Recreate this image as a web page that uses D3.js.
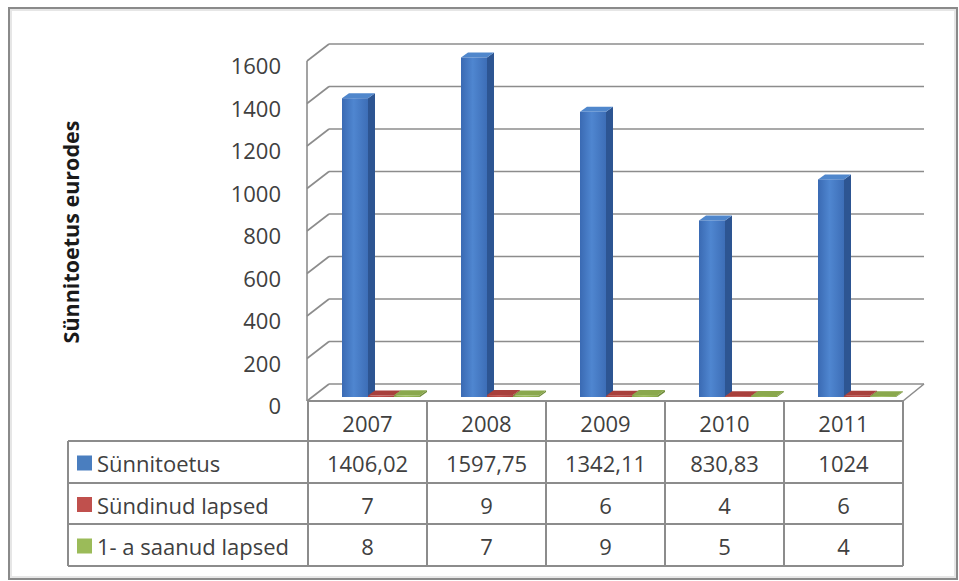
<!DOCTYPE html>
<html>
<head>
<meta charset="utf-8">
<script src="https://cdn.jsdelivr.net/npm/d3@7"></script>
<style>
  html, body { margin: 0; padding: 0; background: #ffffff; }
  svg { display: block; }
  text { font-family: "Open Sans", "Noto Sans", sans-serif; }
</style>
</head>
<body>
<svg id="chart" width="959" height="581"></svg>
<script>
// ---- data ----
const categories = ["2007", "2008", "2009", "2010", "2011"];
const seriesNames = ["Sünnitoetus", "Sündinud lapsed", "1- a saanud lapsed"];
const sunnitoetus = [1406.02, 1597.75, 1342.11, 830.83, 1024];
const sundinudLapsed = [7, 9, 6, 4, 6];
const saanudLapsed = [8, 7, 9, 5, 4];
const yTicks = [0, 200, 400, 600, 800, 1000, 1200, 1400, 1600];
const yTitle = "Sünnitoetus eurodes";

const seriesValues = [sunnitoetus, sundinudLapsed, saanudLapsed];
const seriesColors = [
  { front: ["#3a6ab3", "#4f86d0", "#3d6eb7"], side: "#2d5592", top: "#5087cc", swatch: "#4a7ebf" },
  { front: ["#a8403c", "#c0504d", "#a8403c"], side: "#8e302d", top: "#a8403c", swatch: "#c0504d" },
  { front: ["#86a64a", "#9bbb59", "#86a64a"], side: "#6f8c3a", top: "#8aa84d", swatch: "#9bbb59" }
];

// ---- layout ----
const svg = d3.select("#chart");
const frontLeft = 308, frontRight = 903, floorY = 401;
const DX = 21, DY = 17;            // depth offset of back wall
const BOX = 6, BOY = 4;            // bar front offset into depth
const BDX = 7, BDY = 5;            // bar depth
const gridColor = "#8c8c8c";
const textColor = "#404040";

const x = d3.scaleBand().domain(categories).range([frontLeft, frontRight]);
const y = d3.scaleLinear().domain([0, 1600]).range([floorY, floorY - 340]); // front plane
const barW = 26, barStart = 28;

// frame
svg.append("rect").attr("x", 9).attr("y", 8).attr("width", 948).attr("height", 571)
  .attr("fill", "#fff").attr("stroke", "#8a8a8a").attr("stroke-width", 2);
svg.append("rect").attr("x", 11).attr("y", 10).attr("width", 944).attr("height", 567)
  .attr("fill", "none").attr("stroke", "#e6e6e6").attr("stroke-width", 2);

// gridlines: back wall + left wall diagonals
const grid = svg.append("g").attr("stroke", gridColor).attr("stroke-width", 1.6).attr("fill", "none");
yTicks.forEach(v => {
  const yf = y(v), yb = y(v) - DY;
  grid.append("line").attr("x1", frontLeft + DX).attr("x2", frontRight + DX).attr("y1", yb).attr("y2", yb);
  grid.append("line").attr("x1", frontLeft - 1).attr("y1", yf).attr("x2", frontLeft + DX).attr("y2", yb);
});
// left axis (front edge of left wall)
grid.append("line").attr("x1", frontLeft - 1).attr("x2", frontLeft - 1).attr("y1", y(1600)).attr("y2", floorY);
// floor right diagonal
grid.append("line").attr("x1", frontRight).attr("y1", floorY).attr("x2", frontRight + DX).attr("y2", floorY - DY);

// y tick labels
svg.append("g").selectAll("text").data(yTicks).join("text")
  .attr("x", 281).attr("y", d => y(d) + 4)
  .attr("text-anchor", "end").attr("dominant-baseline", "central")
  .attr("font-size", 22).attr("fill", textColor)
  .text(d => d);

// y title
svg.append("text")
  .attr("transform", "translate(79,232) rotate(-90)")
  .attr("text-anchor", "middle")
  .attr("font-size", 21.5).attr("font-weight", "bold").attr("fill", "#1a1a1a")
  .text(yTitle);

// gradients
const defs = svg.append("defs");
seriesColors.forEach((c, i) => {
  const g = defs.append("linearGradient").attr("id", "grad" + i).attr("x1", "0").attr("x2", "1").attr("y1", "0").attr("y2", "0");
  g.append("stop").attr("offset", "0%").attr("stop-color", c.front[0]);
  g.append("stop").attr("offset", "45%").attr("stop-color", c.front[1]);
  g.append("stop").attr("offset", "100%").attr("stop-color", c.front[2]);
});

// bars
const bars = svg.append("g");
categories.forEach((cat, ci) => {
  seriesValues.forEach((vals, si) => {
    const v = vals[ci];
    const x0 = x(cat) + barStart + si * barW + BOX;
    const x1 = x0 + barW;
    const yb = y(0) - BOY;
    const yt = y(v) - BOY;
    const c = seriesColors[si];
    // side face
    bars.append("polygon")
      .attr("points", [[x1, yb], [x1 + BDX, yb - BDY], [x1 + BDX, yt - BDY], [x1, yt]].map(p => p.join(",")).join(" "))
      .attr("fill", c.side);
    // top face
    bars.append("polygon")
      .attr("points", [[x0, yt], [x0 + BDX, yt - BDY], [x1 + BDX, yt - BDY], [x1, yt]].map(p => p.join(",")).join(" "))
      .attr("fill", c.top);
    // front face
    bars.append("rect")
      .attr("x", x0).attr("y", yt).attr("width", barW).attr("height", Math.max(0.8, yb - yt))
      .attr("fill", "url(#grad" + si + ")");
  });
});

// ---- data table ----
const rowTops = [441, 483, 524, 566];
const tableLeft = 68;
const tbl = svg.append("g").attr("stroke", gridColor).attr("stroke-width", 2).attr("fill", "none");
// header top (floor front)
tbl.append("line").attr("x1", frontLeft).attr("x2", frontRight).attr("y1", floorY).attr("y2", floorY);
rowTops.forEach(ry => {
  tbl.append("line").attr("x1", tableLeft).attr("x2", frontRight).attr("y1", ry).attr("y2", ry);
});
tbl.append("line").attr("x1", tableLeft).attr("x2", tableLeft).attr("y1", rowTops[0]).attr("y2", rowTops[3]);
categories.forEach(cat => {
  tbl.append("line").attr("x1", x(cat)).attr("x2", x(cat)).attr("y1", floorY).attr("y2", rowTops[3]);
});
tbl.append("line").attr("x1", frontRight).attr("x2", frontRight).attr("y1", floorY).attr("y2", rowTops[3]);

// header labels
svg.append("g").selectAll("text").data(categories).join("text")
  .attr("x", d => x(d) + x.bandwidth() / 2).attr("y", 423)
  .attr("text-anchor", "middle").attr("dominant-baseline", "central")
  .attr("font-size", 22).attr("fill", textColor)
  .text(d => d);

const fmt = v => String(v).replace(".", ",");
seriesValues.forEach((vals, si) => {
  const cy = (rowTops[si] + rowTops[si + 1]) / 2 + 1;
  const g = svg.append("g");
  g.append("rect").attr("x", 77).attr("y", cy - 7.5).attr("width", 15).attr("height", 15)
    .attr("fill", seriesColors[si].swatch);
  g.append("text").attr("x", 97).attr("y", cy).attr("dominant-baseline", "central")
    .attr("font-size", 22).attr("fill", textColor).text(seriesNames[si]);
  g.selectAll("text.v").data(vals).join("text").attr("class", "v")
    .attr("x", (d, i) => x(categories[i]) + x.bandwidth() / 2).attr("y", cy)
    .attr("text-anchor", "middle").attr("dominant-baseline", "central")
    .attr("font-size", 22).attr("fill", textColor)
    .text(d => fmt(d));
});
</script>
</body>
</html>
